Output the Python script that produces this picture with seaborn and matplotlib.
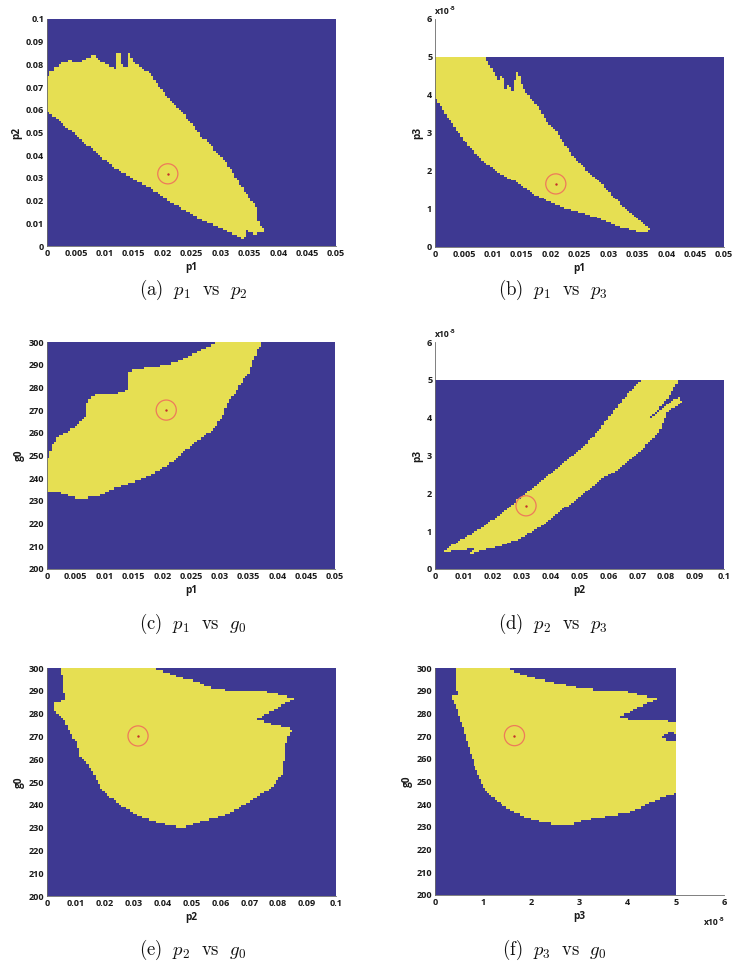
import numpy as np
import pandas as pd
import matplotlib
matplotlib.use("Agg")
import matplotlib.pyplot as plt
from matplotlib.colors import ListedColormap
from matplotlib.path import Path
import seaborn as sns

# ---------------- data ----------------
# boundaries of the feasible (yellow) regions, (x, y) in data units
a_boundary = [(0, 0.0750), (0.0020, 0.0800), (0.0037, 0.0818), (0.0055, 0.0810), (0.0075, 0.0830),
              (0.0080, 0.0846), (0.0092, 0.0814), (0.0110, 0.0795), (0.0118, 0.0780), (0.0120, 0.0850),
              (0.0127, 0.0850), (0.0130, 0.0800), (0.0138, 0.0790), (0.0142, 0.0850), (0.0148, 0.0815),
              (0.0161, 0.0790), (0.0173, 0.0770), (0.0184, 0.0740), (0.0196, 0.0697), (0.0207, 0.0660),
              (0.0225, 0.0616), (0.0242, 0.0565), (0.0253, 0.0535), (0.0265, 0.0484), (0.0280, 0.0455),
              (0.0294, 0.0410), (0.0310, 0.0367), (0.0325, 0.0308), (0.0340, 0.0250), (0.0357, 0.0190),
              (0.0366, 0.0160), (0.0362, 0.0120), (0.0374, 0.0080), (0.0378, 0.0050), (0.0370, 0.0060),
              (0.0360, 0.0050), (0.0346, 0.0070), (0.0340, 0.0030), (0.0323, 0.0050), (0.0294, 0.0088),
              (0.0265, 0.0117), (0.0236, 0.0161), (0.0207, 0.0205), (0.0179, 0.0257), (0.0150, 0.0293),
              (0.0121, 0.0337), (0.0092, 0.0396), (0.0058, 0.0470), (0.0029, 0.0535), (0, 0.0594)]

b_boundary = [(0, 5.0), (0.00865, 5.0), (0.0101, 4.60), (0.0110, 4.40), (0.0113, 4.50), (0.0118, 4.45),
              (0.0120, 4.12), (0.0127, 4.25), (0.0135, 4.10), (0.0140, 4.62), (0.0145, 4.55),
              (0.0148, 4.35), (0.0153, 4.17), (0.0164, 3.95), (0.0182, 3.60), (0.0196, 3.25),
              (0.0210, 3.03), (0.0228, 2.63), (0.0245, 2.28), (0.0262, 2.02), (0.0285, 1.71),
              (0.0309, 1.32), (0.0332, 0.96), (0.0355, 0.70), (0.0372, 0.46), (0.0360, 0.38),
              (0.0343, 0.44), (0.0320, 0.53), (0.0285, 0.75), (0.0257, 0.88), (0.0228, 1.01),
              (0.0199, 1.18), (0.0170, 1.40), (0.0141, 1.71), (0.0112, 1.93), (0.0084, 2.24),
              (0.0055, 2.72), (0.0032, 3.20), (0.0014, 3.60), (0, 3.95)]

c_boundary = [(0, 248.0), (0.0009, 254.6), (0.0020, 258.3), (0.0035, 260.5), (0.0052, 263.4),
              (0.0067, 267.0), (0.0071, 274.4), (0.0084, 276.6), (0.0104, 276.6), (0.0133, 278.0),
              (0.0140, 279.5), (0.0139, 286.8), (0.0162, 288.3), (0.0185, 289.3), (0.0209, 289.8),
              (0.0232, 292.0), (0.0261, 295.6), (0.0295, 300.0), (0.0374, 300.0), (0.0365, 296.3),
              (0.0356, 290.5), (0.0351, 286.8), (0.0336, 281.7), (0.0324, 276.6), (0.0313, 272.9),
              (0.0304, 267.0), (0.0290, 262.0), (0.0272, 258.3), (0.0255, 255.3), (0.0235, 251.0),
              (0.0214, 246.6), (0.0191, 242.9), (0.0162, 239.2), (0.0133, 237.0), (0.0110, 234.8),
              (0.0093, 232.6), (0.0075, 231.9), (0.0058, 230.5), (0.0035, 232.6), (0.0017, 234.1),
              (0, 234.4)]

d_boundary = [(0.0023, 0.45), (0.0063, 0.64), (0.0110, 0.86), (0.0167, 1.12), (0.0225, 1.43),
              (0.0283, 1.82), (0.0340, 2.15), (0.0398, 2.50), (0.0456, 2.88), (0.0513, 3.23),
              (0.0571, 3.71), (0.0629, 4.28), (0.0686, 4.79), (0.0715, 5.0), (0.0842, 5.0),
              (0.0807, 4.54), (0.0767, 4.15), (0.0744, 4.00), (0.0848, 4.59), (0.0854, 4.39),
              (0.0802, 4.15), (0.0779, 3.67), (0.0744, 3.36), (0.0686, 2.96), (0.0629, 2.61),
              (0.0571, 2.35), (0.0513, 2.00), (0.0456, 1.65), (0.0398, 1.30), (0.0340, 0.99),
              (0.0283, 0.77), (0.0225, 0.60), (0.0167, 0.51), (0.0110, 0.37), (0.0138, 0.56),
              (0.0092, 0.50), (0.0052, 0.47)]

e_boundary = [(0.0046, 300.0), (0.0052, 296.8), (0.0063, 285.8), (0.0023, 285.1), (0.0023, 282.2),
              (0.0035, 280.0), (0.0063, 277.0), (0.0081, 271.2), (0.0104, 266.8), (0.0115, 261.0),
              (0.0138, 258.0), (0.0161, 253.7), (0.0184, 247.8), (0.0219, 243.4), (0.0265, 239.0),
              (0.0323, 234.6), (0.0380, 232.5), (0.0438, 230.6), (0.0472, 230.3), (0.0530, 232.5),
              (0.0599, 234.6), (0.0668, 239.0), (0.0726, 243.4), (0.0772, 247.1), (0.0812, 252.9),
              (0.0818, 256.6), (0.0823, 262.4), (0.0829, 268.3), (0.0847, 272.7), (0.0847, 273.4),
              (0.0795, 274.9), (0.0726, 277.5), (0.0853, 286.5), (0.0830, 287.6), (0.0760, 289.5),
              (0.0726, 289.9), (0.0645, 290.2), (0.0576, 290.9), (0.0518, 293.9), (0.0461, 296.0),
              (0.0392, 299.0), (0.0363, 300.0)]

f_boundary = [(0.44, 300.0), (0.45, 291.7), (0.48, 288.0), (0.37, 287.6), (0.39, 285.0), (0.45, 282.2),
              (0.55, 275.6), (0.66, 268.3), (0.76, 261.0), (0.86, 255.1), (1.00, 247.8), (1.21, 242.7),
              (1.49, 238.3), (1.83, 234.6), (2.18, 232.5), (2.52, 231.0), (2.80, 231.0), (3.15, 233.2),
              (3.56, 234.6), (3.98, 236.1), (4.25, 238.3), (4.60, 242.0), (5.0, 244.9), (5.0, 276.3),
              (3.77, 277.8), (4.60, 286.5), (4.46, 287.3), (3.98, 289.5), (3.56, 289.9), (3.08, 290.9),
              (2.73, 292.4), (2.39, 293.9), (2.04, 295.8), (1.69, 297.8), (1.52, 300.0)]
f_hole = [(4.72, 269.5), (4.85, 272.0), (5.0, 271.2), (5.0, 267.5), (4.85, 268.0)]

# nominal parameter point (red circle) in each panel
a_point = (0.0209, 0.0318)
b_point = (0.0209, 1.66)
c_point = (0.0207, 270.0)
d_point = (0.0315, 1.67)
e_point = (0.0315, 270.2)
f_point = (1.65, 270.2)

p1_ticks = [0, 0.005, 0.01, 0.015, 0.02, 0.025, 0.03, 0.035, 0.04, 0.045, 0.05]
p1_labels = ["0", "0.005", "0.01", "0.015", "0.02", "0.025", "0.03", "0.035", "0.04", "0.045", "0.05"]
p2_ticks = [0, 0.01, 0.02, 0.03, 0.04, 0.05, 0.06, 0.07, 0.08, 0.09, 0.1]
p2_labels = ["0", "0.01", "0.02", "0.03", "0.04", "0.05", "0.06", "0.07", "0.08", "0.09", "0.1"]
p3_ticks = [0, 1, 2, 3, 4, 5, 6]
p3_labels = ["0", "1", "2", "3", "4", "5", "6"]
g0_ticks = [200, 210, 220, 230, 240, 250, 260, 270, 280, 290, 300]
g0_labels = [str(v) for v in g0_ticks]

captions = [r"$\mathrm{(a)}\ \ p_1\ \ \mathrm{vs}\ \ p_2$",
            r"$\mathrm{(b)}\ \ p_1\ \ \mathrm{vs}\ \ p_3$",
            r"$\mathrm{(c)}\ \ p_1\ \ \mathrm{vs}\ \ g_0$",
            r"$\mathrm{(d)}\ \ p_2\ \ \mathrm{vs}\ \ p_3$",
            r"$\mathrm{(e)}\ \ p_2\ \ \mathrm{vs}\ \ g_0$",
            r"$\mathrm{(f)}\ \ p_3\ \ \mathrm{vs}\ \ g_0$"]

# ---------------- style ----------------
BLUE = "#3E3992"
YELLOW = "#E6DF52"
RING = "#EE7A5A"
DOT = "#C42F2A"

sns.set_style("white")
plt.rcParams["font.family"] = ["Open Sans", "DejaVu Sans"]
plt.rcParams["mathtext.fontset"] = "cm"

W, H = 733, 963
fig = plt.figure(figsize=(W / 100, H / 100), dpi=100)


def rect(x0, y0, x1, y1):
    return [x0 / W, 1 - y1 / H, (x1 - x0) / W, (y1 - y0) / H]


NX, NY = 125, 100
TXT = "#1a1a1a"


def panel(box, boundary, holes, xr, yr, xmax_axis, ymax_axis, point,
          xticks, xlabels, yticks, ylabels, xlabel, ylabel):
    ax = fig.add_axes(rect(*box))
    x0, x1 = xr
    y0, y1 = yr
    xc = x0 + (np.arange(NX) + 0.5) * (x1 - x0) / NX
    yc = y0 + (np.arange(NY) + 0.5) * (y1 - y0) / NY
    gx, gy = np.meshgrid(xc, yc)
    pts = np.column_stack([gx.ravel(), gy.ravel()])
    inside = Path(np.array(boundary)).contains_points(pts)
    for h in holes:
        inside &= ~Path(np.array(h)).contains_points(pts)
    grid = pd.DataFrame(inside.reshape(NY, NX).astype(int))
    sns.heatmap(grid, ax=ax, cmap=ListedColormap([BLUE, YELLOW]), vmin=0, vmax=1,
                cbar=False, xticklabels=False, yticklabels=False, rasterized=True)

    def fx(v):
        return (np.asarray(v, dtype=float) - x0) / (x1 - x0) * NX

    def fy(v):
        return (np.asarray(v, dtype=float) - y0) / (y1 - y0) * NY

    ax.set_xlim(0, fx(xmax_axis))
    ax.set_ylim(0, fy(ymax_axis))
    ax.set_xticks(fx(xticks))
    ax.set_xticklabels(xlabels)
    ax.set_yticks(fy(yticks))
    ax.set_yticklabels(ylabels, rotation=0)
    ax.tick_params(direction="in", length=3, width=0.6, color="#555555",
                   labelsize=6.6, pad=2, labelcolor=TXT)
    for lab in ax.get_xticklabels() + ax.get_yticklabels():
        lab.set_fontweight("bold")
    for s in ["left", "bottom"]:
        ax.spines[s].set_visible(True)
        ax.spines[s].set_color("#6a6a6a")
        ax.spines[s].set_linewidth(0.6)
    for s in ["top", "right"]:
        ax.spines[s].set_visible(False)
    ax.set_xlabel(xlabel, fontsize=7.2, fontweight="bold", labelpad=3, color=TXT)
    ax.set_ylabel(ylabel, fontsize=7.2, fontweight="bold", labelpad=3, color=TXT)
    px, py = fx(point[0]), fy(point[1])
    ax.scatter([px], [py], s=210, facecolors="none", edgecolors=RING, linewidths=0.9, zorder=5)
    ax.scatter([px], [py], s=3, color=DOT, linewidths=0, zorder=6)
    return ax


panel((47, 19, 336, 246), a_boundary, [], (0, 0.05), (0, 0.1), 0.05, 0.1, a_point,
      p1_ticks, p1_labels, p2_ticks, p2_labels, "p1", "p2")
panel((435, 19, 724, 247), b_boundary, [], (0, 0.05), (0, 5), 0.05, 6, b_point,
      p1_ticks, p1_labels, p3_ticks, p3_labels, "p1", "p3")
panel((47, 342, 335, 569), c_boundary, [], (0, 0.05), (200, 300), 0.05, 300, c_point,
      p1_ticks, p1_labels, g0_ticks, g0_labels, "p1", "g0")
panel((435, 342, 724, 569), d_boundary, [], (0, 0.1), (0, 5), 0.1, 6, d_point,
      p2_ticks, p2_labels, p3_ticks, p3_labels, "p2", "p3")
panel((47, 668, 336, 896), e_boundary, [], (0, 0.1), (200, 300), 0.1, 300, e_point,
      p2_ticks, p2_labels, g0_ticks, g0_labels, "p2", "g0")
panel((435, 668, 724, 895), f_boundary, [f_hole], (0, 5), (200, 300), 6, 300, f_point,
      p3_ticks, p3_labels, g0_ticks, g0_labels, "p3", "g0")


def exp_label(x, y):
    fig.text(x / W, 1 - y / H, "x10", fontsize=6.2, fontweight="bold",
             ha="left", va="baseline", color=TXT)
    fig.text((x + 14.5) / W, 1 - (y - 4) / H, "-5", fontsize=4.6, fontweight="bold",
             ha="left", va="baseline", color=TXT)


exp_label(435, 14)
exp_label(435, 337)
exp_label(704, 925)

cap_pos = [(193, 290), (553, 290), (193, 624), (553, 624), (193, 950), (554, 950)]
for (cx, cy), txt in zip(cap_pos, captions):
    fig.text(cx / W, 1 - cy / H, txt, fontsize=13.5, ha="center", va="center", color="#111111")

fig.savefig("out.png", dpi=100)
